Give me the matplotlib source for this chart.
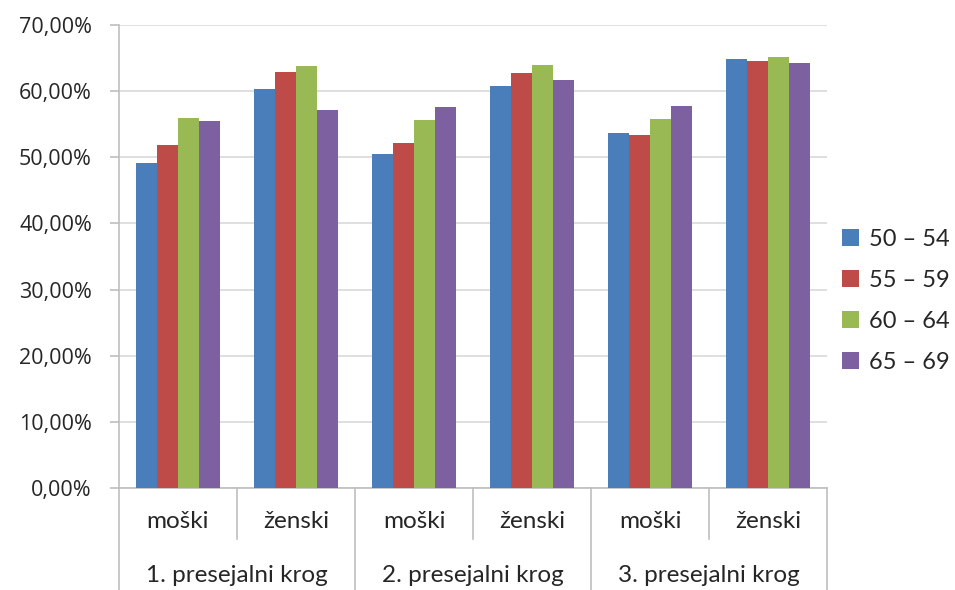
import matplotlib
matplotlib.use("Agg")
import matplotlib.pyplot as plt
from matplotlib.ticker import FuncFormatter, MultipleLocator
import numpy as np

plt.rcParams['font.family'] = ['Lato', 'DejaVu Sans']

rounds = ["1. presejalni krog", "2. presejalni krog", "3. presejalni krog"]
sexes = ["moški", "ženski"]
age_groups = ["50 – 54", "55 – 59", "60 – 64", "65 – 69"]

# percentages per age group, ordered: round 1 (M, Ž), round 2 (M, Ž), round 3 (M, Ž)
age_50_54 = [49.1, 60.4, 50.5, 60.8, 53.7, 64.8]
age_55_59 = [51.8, 62.9, 52.2, 62.8, 53.4, 64.6]
age_60_64 = [56.0, 63.8, 55.7, 64.0, 55.8, 65.2]
age_65_69 = [55.5, 57.2, 57.6, 61.7, 57.7, 64.2]

series = [age_50_54, age_55_59, age_60_64, age_65_69]
colors = ["#4A7EBB", "#BE4B48", "#98B954", "#7D60A0"]
text_col = "#262626"

fig = plt.figure(figsize=(9.55, 5.9), dpi=100)
ax = fig.add_axes([0.1246, 0.1729, 0.7414, 0.7847])

n_cat = len(rounds) * len(sexes)
x = np.arange(n_cat)
bar_w = 0.178
offsets = (np.arange(len(series)) - (len(series) - 1) / 2) * bar_w

for vals, col, lab, off in zip(series, colors, age_groups, offsets):
    ax.bar(x + off, vals, width=bar_w, color=col, label=lab, zorder=3)

ax.set_xlim(-0.5, n_cat - 0.5)
ax.set_ylim(0, 70)
ax.yaxis.set_major_locator(MultipleLocator(10))
ax.yaxis.set_major_formatter(FuncFormatter(lambda v, p: f"{v:.2f}".replace(".", ",") + "%"))
ax.grid(axis="y", color="#D9D9D9", linewidth=1.2, zorder=0)

grey = "#BFBFBF"
for side in ("top", "right"):
    ax.spines[side].set_visible(False)
ax.spines["left"].set_color(grey)
ax.spines["bottom"].set_color(grey)
ax.spines["left"].set_linewidth(1.2)
ax.spines["bottom"].set_linewidth(1.2)
ax.tick_params(axis="y", length=6.5, width=1.2, color=grey, pad=13)
for lbl in ax.get_yticklabels():
    lbl.set_fontfamily(['Open Sans', 'DejaVu Sans'])
    lbl.set_fontsize(15.5)
    lbl.set_color(text_col)
ax.set_xticks([])

# category dividers below the axis
trans = ax.get_xaxis_transform()
for b in np.arange(n_cat + 1) - 0.5:
    is_group = (int(round(b + 0.5)) % len(sexes)) == 0
    y_end = -0.222 if is_group else -0.11
    ax.plot([b, b], [0, y_end], color=grey, linewidth=1.2, transform=trans,
            clip_on=False)

# sex labels and round labels
for i in range(n_cat):
    ax.text(x[i], -0.073, sexes[i % len(sexes)], transform=trans, ha="center",
            va="center", fontsize=17.5, color=text_col)
for g, name in enumerate(rounds):
    cx = g * len(sexes) + (len(sexes) - 1) / 2
    ax.text(cx, -0.19, name, transform=trans, ha="center", va="center",
            fontsize=17.5, color=text_col)

leg = fig.legend(loc="center left", bbox_to_anchor=(0.882, 0.49),
                 bbox_transform=fig.transFigure, frameon=False,
                 fontsize=17, handlelength=0.7, handleheight=0.7,
                 handletextpad=0.45, labelspacing=0.85, borderaxespad=0,
                 borderpad=0)
for t in leg.get_texts():
    t.set_color(text_col)

fig.savefig("out.png", dpi=100)
